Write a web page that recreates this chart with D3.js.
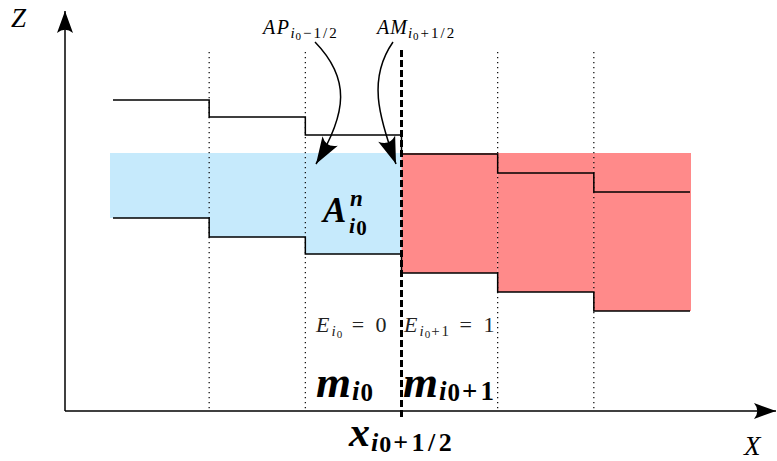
<!DOCTYPE html>
<html>
<head>
<meta charset="utf-8">
<script src="https://cdn.jsdelivr.net/npm/d3@7"></script>
<style>
  html, body { margin: 0; padding: 0; background: #fff; }
  svg { display: block; }
</style>
</head>
<body>
<script>
// Cells of the 1D two-phase column: cell i spans [i, i+1] on the X axis
const cells = [0, 1, 2, 3, 4, 5];
// Upper and lower step profiles of each cell (Z units)
const topLine = [311, 294, 276, 257, 238, 219];
const bottomLine = [193, 174, 157, 138, 119, 100];
// Common upper level of the filled area
const fillLevel = [258, 258, 258, 258, 258, 258];
// Indicator per cell: 0 -> left state, 1 -> right state
const indicator = [0, 0, 0, 1, 1, 1];
// Interfaces drawn as dotted guides, and the highlighted one
const dottedEdges = [1, 2, 4, 5];
const interfaceEdge = 3;

const W = 777, H = 461;
const FONT = '"Liberation Serif"';
const svg = d3.select("body").append("svg").attr("width", W).attr("height", H);

const x = d3.scaleLinear().domain([0, 6]).range([113, 690]);
const z = d3.scaleLinear().domain([0, 400]).range([411, 11]);
const fillColor = d3.scaleOrdinal().domain([0, 1]).range(["#c6eafc", "#ff8a8a"]);

// Stealth-style arrowheads
const defs = svg.append("defs");
function marker(id, len, half) {
  defs.append("marker")
    .attr("id", id)
    .attr("markerUnits", "userSpaceOnUse")
    .attr("viewBox", `${-len - 2} ${-half - 2} ${len + 4} ${2 * half + 4}`)
    .attr("markerWidth", len + 4).attr("markerHeight", 2 * half + 4)
    .attr("refX", 0).attr("refY", 0)
    .attr("orient", "auto")
    .append("path")
    .attr("d", `M0,0 L${-len},${-half} Q${-len * 0.7},0 ${-len},${half} Z`)
    .attr("fill", "#000");
}
marker("axisHead", 22, 8);
marker("curveHead", 27, 9);

// Filled areas between the common level and the lower profile
svg.append("g").selectAll("rect")
  .data(cells)
  .join("rect")
  .attr("x", i => x(i) - (i === 0 ? 3 : 0))
  .attr("width", i => x(i + 1) - x(i) + (i === 0 ? 3 : 0) + (i === 5 ? 1 : 0))
  .attr("y", i => z(fillLevel[i]))
  .attr("height", i => z(bottomLine[i]) - z(fillLevel[i]))
  .attr("fill", i => fillColor(indicator[i]));

// Dotted cell interfaces
svg.append("g").selectAll("line")
  .data(dottedEdges)
  .join("line")
  .attr("x1", e => x(e)).attr("x2", e => x(e))
  .attr("y1", 52).attr("y2", 411)
  .attr("stroke", "#000").attr("stroke-width", 1.2)
  .attr("stroke-dasharray", "1.3,3.7");

// Step profiles
function stepPath(vals) {
  const pts = [];
  vals.forEach((v, i) => { pts.push([x(i), z(v)]); pts.push([x(i + 1), z(v)]); });
  return d3.line()(pts);
}
svg.append("path").attr("d", stepPath(topLine))
  .attr("fill", "none").attr("stroke", "#000").attr("stroke-width", 1.5);
svg.append("path").attr("d", stepPath(bottomLine))
  .attr("fill", "none").attr("stroke", "#000").attr("stroke-width", 1.5);

// Highlighted interface x_{i0+1/2}
svg.append("line")
  .attr("x1", x(interfaceEdge)).attr("x2", x(interfaceEdge))
  .attr("y1", 50).attr("y2", 417)
  .attr("stroke", "#000").attr("stroke-width", 3)
  .attr("stroke-dasharray", "7,3");

// Axes
svg.append("line").attr("x1", 65).attr("y1", 411).attr("x2", 65).attr("y2", 11)
  .attr("stroke", "#000").attr("stroke-width", 1.5).attr("marker-end", "url(#axisHead)");
svg.append("line").attr("x1", 65).attr("y1", 411).attr("x2", 776).attr("y2", 411)
  .attr("stroke", "#000").attr("stroke-width", 1.5).attr("marker-end", "url(#axisHead)");

// Curved pointers to the interface fluxes
svg.append("path").attr("d", "M315,42 C350,78 348,112 316,164")
  .attr("fill", "none").attr("stroke", "#000").attr("stroke-width", 1.5)
  .attr("marker-end", "url(#curveHead)");
svg.append("path").attr("d", "M393,42 C368,78 378,115 396,164")
  .attr("fill", "none").attr("stroke", "#000").attr("stroke-width", 1.5)
  .attr("marker-end", "url(#curveHead)");

// Math-style text: runs with size, style, baseline offset and spacing
function math(px, py, runs, color) {
  const t = svg.append("text").attr("x", px).attr("y", py)
    .style("font-family", FONT).style("fill", color || "#000");
  let cur = 0;
  runs.forEach(r => {
    const off = r.o || 0;
    t.append("tspan")
      .attr("dy", off - cur)
      .attr("dx", r.dx || 0)
      .style("font-size", r.s + "px")
      .style("font-style", r.i ? "italic" : "normal")
      .style("font-weight", r.b ? "bold" : "normal")
      .style("letter-spacing", (r.ls || 0) + "px")
      .text(r.t);
    cur = off;
  });
  return t;
}

math(11, 27, [{ t: "Z", s: 27, i: true }]);
math(744, 455, [{ t: "X", s: 27, i: true }]);

math(263, 34, [
  { t: "AP", s: 20, i: true, ls: 1.5 },
  { t: "i", s: 15, i: true, o: 4, ls: 1 },
  { t: "0", s: 11, o: 6, ls: 1 },
  { t: "−1/2", s: 15, o: 4, dx: 1, ls: 2 }
]);
math(377, 34, [
  { t: "AM", s: 20, i: true, ls: 1 },
  { t: "i", s: 15, i: true, o: 4, ls: 1 },
  { t: "0", s: 11, o: 6, ls: 1 },
  { t: "+1/2", s: 15, o: 4, dx: 1, ls: 2 }
]);

// A^n_{i0}
math(323, 222, [{ t: "A", s: 35, i: true, b: true }]);
math(350, 206, [{ t: "n", s: 23, i: true, b: true }]);
math(349, 233, [{ t: "i", s: 22, i: true, b: true, ls: 1 }, { t: "0", s: 21, b: true, o: 2 }]);

// Indicator values
math(316, 332, [
  { t: "E", s: 22, i: true, ls: 2 },
  { t: "i", s: 15, i: true, o: 4, ls: 1 },
  { t: "0", s: 11, o: 6, ls: 1 },
  { t: " = 0", s: 22, o: 0, ls: 3 }
], "#222");
math(404, 332, [
  { t: "E", s: 22, i: true, ls: 2 },
  { t: "i", s: 15, i: true, o: 4, ls: 1 },
  { t: "0", s: 11, o: 6, ls: 1 },
  { t: "+1", s: 15, o: 4, ls: 2 },
  { t: " = 1", s: 22, o: 0, ls: 3 }
], "#222");

// Cell masses
math(316, 397, [
  { t: "m", s: 45, i: true, b: true, ls: 1 },
  { t: "i", s: 27, i: true, b: true, o: 3, ls: 1 },
  { t: "0", s: 25, b: true, o: 4 }
]);
math(403, 397, [
  { t: "m", s: 45, i: true, b: true, ls: 1 },
  { t: "i", s: 27, i: true, b: true, o: 3, ls: 1 },
  { t: "0", s: 25, b: true, o: 4 },
  { t: "+1", s: 27, b: true, o: 3, dx: 2, ls: 3 }
]);

// Interface abscissa
math(349, 446, [
  { t: "x", s: 42, i: true, b: true, ls: 1 },
  { t: "i", s: 26, i: true, b: true, o: 5, ls: 1 },
  { t: "0", s: 24, b: true, o: 6 },
  { t: "+1/2", s: 26, b: true, o: 5, dx: 2, ls: 3.5 }
]);
</script>
</body>
</html>
